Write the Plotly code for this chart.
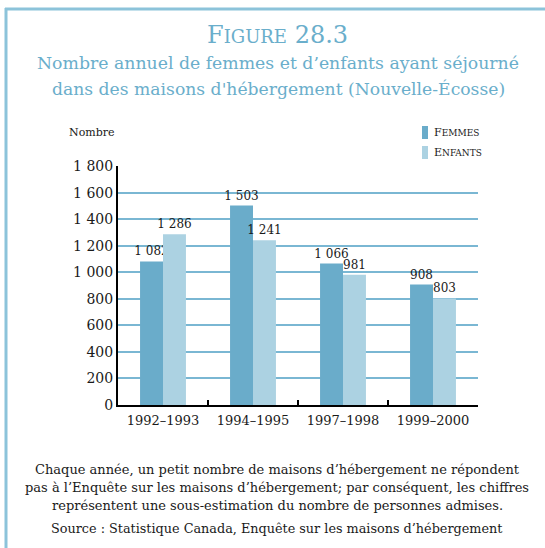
import plotly.graph_objects as go

# Annual numbers of women and children admitted to shelters, Nova Scotia
periods = ["1992–1993", "1994–1995", "1997–1998", "1999–2000"]
femmes = [1082, 1503, 1066, 908]
enfants = [1286, 1241, 981, 803]
y_ticks = [0, 200, 400, 600, 800, 1000, 1200, 1400, 1600, 1800]

W, H = 545, 548
L, R, T, B = 118, 478, 166, 405   # plot area in pixels


def px(x):
    return (x - L) / (R - L)


def py(y):
    return (B - y) / (B - T)


def fmt(v):
    return f"{v:,}".replace(",", " ")


FONT = "DejaVu Serif"
INK = "#1a1a1a"
C_F = "#6aacca"
C_E = "#acd2e2"
C_LINE = "#8cc3da"
C_TITLE = "#6aaecb"

fig = go.Figure()
fig.add_bar(x=periods, y=femmes, name="Femmes", marker_color=C_F, marker_line_width=0,
            text=[fmt(v) for v in femmes], textposition="outside", cliponaxis=False,
            constraintext="none",
            textfont=dict(family=FONT, size=12, color=INK))
fig.add_bar(x=periods, y=enfants, name="Enfants", marker_color=C_E, marker_line_width=0,
            text=[fmt(v) for v in enfants], textposition="outside", cliponaxis=False,
            constraintext="none",
            textfont=dict(family=FONT, size=12, color=INK))

fig.update_layout(
    width=W, height=H,
    margin=dict(l=L, r=W - R, t=T, b=H - B),
    paper_bgcolor="white", plot_bgcolor="white",
    barmode="group", bargap=0.49, bargroupgap=0,
    showlegend=False,
    font=dict(family=FONT, color=INK),
    uniformtext=dict(mode="show", minsize=12),
)
fig.update_xaxes(
    showline=True, linecolor="black", linewidth=2,
    ticks="inside", tickson="boundaries", ticklen=5, tickwidth=2, tickcolor="black",
    tickfont=dict(family=FONT, size=13, color=INK), ticklabelstandoff=2,
    showgrid=False,
)
fig.update_yaxes(
    range=[0, 1801], tickvals=y_ticks, ticktext=[fmt(v) for v in y_ticks],
    showline=True, linecolor="black", linewidth=2,
    showgrid=True, gridcolor="#7ab7d3", gridwidth=1.5, zeroline=False,
    tickfont=dict(family=FONT, size=14, color=INK), ticks="", ticklen=0, ticklabelstandoff=0,
)

shapes = [
    # outer frame (top and left edges)
    dict(type="line", xref="paper", yref="paper", x0=px(5), x1=px(545), y0=py(9), y1=py(9),
         line=dict(color=C_LINE, width=3)),
    dict(type="line", xref="paper", yref="paper", x0=px(6), x1=px(6), y0=py(8), y1=py(548),
         line=dict(color=C_LINE, width=3)),
    # legend swatches
    dict(type="rect", xref="paper", yref="paper", x0=px(422), x1=px(428), y0=py(126), y1=py(139),
         fillcolor=C_F, line_width=0),
    dict(type="rect", xref="paper", yref="paper", x0=px(422), x1=px(428), y0=py(146), y1=py(159),
         fillcolor=C_E, line_width=0),
]


def small_caps(word, small):
    return f"{word[0]}<span style='font-size:{small}px'>{word[1:].upper()}</span>"


annotations = [
    dict(text=small_caps("Figure", 18) + " 28.3", x=px(277), y=py(35),
         font=dict(family=FONT, size=24, color=C_TITLE)),
    dict(text="Nombre annuel de femmes et d’enfants ayant séjourné", x=px(278), y=py(63),
         font=dict(family=FONT, size=17.3, color=C_TITLE)),
    dict(text="dans des maisons d'hébergement (Nouvelle-Écosse)", x=px(278), y=py(89),
         font=dict(family=FONT, size=17.2, color=C_TITLE)),
    dict(text="Nombre", x=px(67), y=py(133), xanchor="left",
         font=dict(family=FONT, size=11, color=INK)),
    dict(text=small_caps("Femmes", 9), x=px(432), y=py(133), xanchor="left",
         font=dict(family=FONT, size=11, color=INK)),
    dict(text=small_caps("Enfants", 9), x=px(432), y=py(153), xanchor="left",
         font=dict(family=FONT, size=11, color=INK)),
    dict(text="Chaque année, un petit nombre de maisons d’hébergement ne répondent", x=px(277), y=py(469),
         font=dict(family=FONT, size=13, color=INK)),
    dict(text="pas à l’Enquête sur les maisons d’hébergement; par conséquent, les chiffres", x=px(277), y=py(487),
         font=dict(family=FONT, size=13, color=INK)),
    dict(text="représentent une sous-estimation du nombre de personnes admises.", x=px(277), y=py(505),
         font=dict(family=FONT, size=13, color=INK)),
    dict(text="Source : Statistique Canada, Enquête sur les maisons d’hébergement", x=px(277), y=py(528),
         font=dict(family=FONT, size=12.8, color=INK)),
]
for a in annotations:
    a.update(xref="paper", yref="paper", showarrow=False, yanchor="middle")
    a.setdefault("xanchor", "center")

fig.update_layout(shapes=shapes, annotations=annotations)
fig.write_html("out.html")
